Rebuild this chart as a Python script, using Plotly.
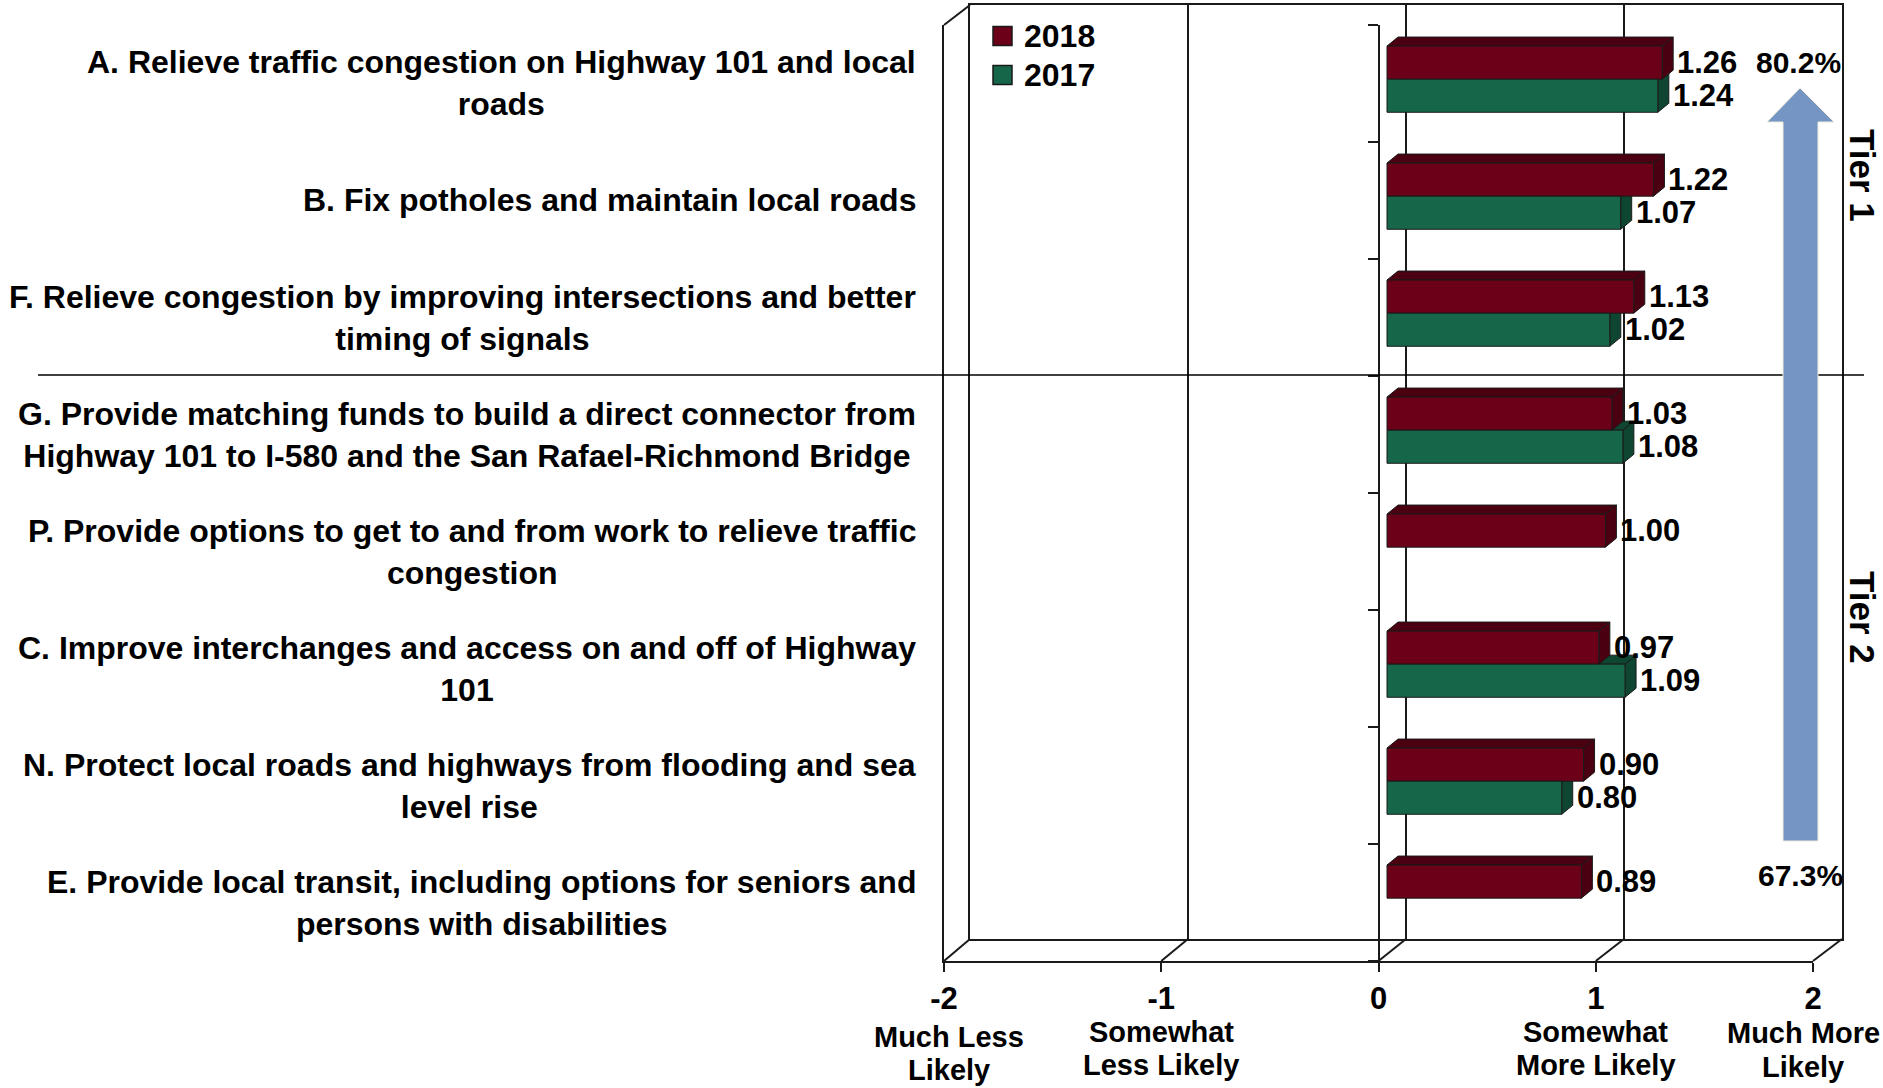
import plotly.graph_objects as go

W, H = 1883, 1088

# ---------------- data ----------------
categories = [
    "A. Relieve traffic congestion on Highway 101 and local<br>roads",
    "B. Fix potholes and maintain local roads",
    "F. Relieve congestion by improving intersections and better<br>timing of signals",
    "G. Provide matching funds to build a direct connector from<br>Highway 101 to I-580 and the San Rafael-Richmond Bridge",
    "P. Provide options to get to and from work to relieve traffic<br>congestion",
    "C. Improve interchanges and access on and off of Highway<br>101",
    "N. Protect local roads and highways from flooding and sea<br>level rise",
    "E. Provide local transit, including options for seniors and<br>persons with disabilities",
]
values_2018 = [1.26, 1.22, 1.13, 1.03, 1.00, 0.97, 0.90, 0.89]
values_2017 = [1.24, 1.07, 1.02, 1.08, None, 1.09, 0.80, None]
series_names = ["2018", "2017"]
x_tick_values = [-2, -1, 0, 1, 2]
x_tick_labels = ["-2", "-1", "0", "1", "2"]
x_tick_descriptions = [["Much Less", "Likely"], ["Somewhat", "Less Likely"], [],
                       ["Somewhat", "More Likely"], ["Much More", "Likely"]]
tier_labels = ["Tier 1", "Tier 2"]
arrow_labels = ["80.2%", "67.3%"]

# ---------------- styling ----------------
FRONT_COL = {"2018": "#6C0018", "2017": "#166649"}
DARK_COL = {"2018": "#4A0010", "2017": "#0E4632"}
EDGE = "#1a1a1a"
FONT = "Liberation Sans, Arial, sans-serif"


def px(x):
    return x / W


def py(y):
    return 1 - y / H


# geometry (pixels)
BAR_X0, UNIT_X = 1387, 218.4            # bar plane: value 0 and px per unit
TOP, BOTTOM = 25, 961                   # front plane vertical extent
CAT_PX = (BOTTOM - TOP) / len(categories)
DEPTH_X = 11 / UNIT_X                   # 3D bar depth in data units
DEPTH_Y = 9 / CAT_PX
BAR_W = 0.283
OFFSETS = {"2018": -0.32, "2017": -0.037}

FRONT_L, FRONT_R = 944, 1813            # front floor edge
BACK_L, BACK_R = 970, 1842              # back wall
BACK_TOP, BACK_BOTTOM = 5, 939

fig = go.Figure()
ypos = list(range(len(categories)))
series_vals = {"2018": values_2018, "2017": values_2017}

# empty trace so the back-wall subplot is rendered
fig.add_trace(go.Scatter(x=[None], y=[None], mode="markers", showlegend=False,
                         hoverinfo="skip", xaxis="x", yaxis="y"))

for name in series_names:
    fig.add_trace(go.Bar(
        name=name, x=series_vals[name], y=ypos, orientation="h",
        width=BAR_W, offset=OFFSETS[name], showlegend=False,
        marker=dict(color=FRONT_COL[name], line=dict(color=EDGE, width=1)),
        xaxis="x3", yaxis="y3", hoverinfo="x+name",
    ))

shapes = []
annotations = []

# 3D faces: draw 2017 first so 2018 faces overlap them
for name in ["2017", "2018"]:
    for c, v in enumerate(series_vals[name]):
        if v is None:
            continue
        y0 = c + OFFSETS[name]
        y1 = y0 + BAR_W
        top = f"M0,{y0} L{v},{y0} L{v + DEPTH_X},{y0 - DEPTH_Y} L{DEPTH_X},{y0 - DEPTH_Y} Z"
        side = f"M{v},{y0} L{v + DEPTH_X},{y0 - DEPTH_Y} L{v + DEPTH_X},{y1 - DEPTH_Y} L{v},{y1} Z"
        for p in (top, side):
            shapes.append(dict(type="path", path=p, xref="x3", yref="y3",
                               fillcolor=DARK_COL[name], line=dict(color=EDGE, width=1),
                               layer="below"))
        annotations.append(dict(
            x=v, y=y0 + BAR_W / 2, xref="x3", yref="y3", text=f"{v:.2f}",
            xanchor="left", yanchor="middle", xshift=13, showarrow=False,
            font=dict(size=31)))

# category labels
for c, lab in enumerate(categories):
    annotations.append(dict(
        x=px(918), y=c, xref="paper", yref="y3", text=lab, xanchor="right",
        yanchor="middle", align="center", showarrow=False, font=dict(size=32)))

# custom legend
for i, name in enumerate(series_names):
    yc = 36 + 39 * i
    shapes.append(dict(type="rect", xref="paper", yref="paper",
                       x0=px(993), x1=px(1012), y0=py(yc - 9.5), y1=py(yc + 9.5),
                       fillcolor=FRONT_COL[name], line=dict(color=EDGE, width=1.5)))
    annotations.append(dict(x=px(1022), y=py(yc), xref="paper", yref="paper",
                            text=name, xanchor="left", yanchor="middle",
                            showarrow=False, font=dict(size=32)))

# bottom descriptions (one annotation per line)
desc_lines_y = [(1037, 1070), (1032, 1065), (), (1032, 1065), (1033, 1067)]
desc_shift = [5, 0, 0, 0, -10]
for t, lines, ys, sh in zip(x_tick_values, x_tick_descriptions, desc_lines_y, desc_shift):
    for txt, yy in zip(lines, ys):
        annotations.append(dict(
            x=t, y=py(yy), xref="x2", yref="paper", text=txt, xanchor="center",
            yanchor="middle", align="center", xshift=sh, showarrow=False,
            font=dict(size=29)))

# floor diagonals and corners of the 3D frame
for t in x_tick_values:
    fx = FRONT_L + (t + 2) * (FRONT_R - FRONT_L) / 4
    bx = BACK_L + (t + 2) * (BACK_R - BACK_L) / 4
    shapes.append(dict(type="line", xref="paper", yref="paper",
                       x0=px(fx), y0=py(BOTTOM), x1=px(bx), y1=py(BACK_BOTTOM),
                       line=dict(color=EDGE, width=2)))
shapes.append(dict(type="line", xref="paper", yref="paper",
                   x0=px(FRONT_L), y0=py(TOP), x1=px(BACK_L), y1=py(BACK_TOP),
                   line=dict(color=EDGE, width=2)))

# tier separator
shapes.append(dict(type="line", xref="paper", yref="paper",
                   x0=px(38), y0=py(375), x1=px(1864), y1=py(375),
                   line=dict(color="black", width=1.5), layer="above"))

# arrow
arrow_pts = [(1800, 88), (1834, 122), (1818, 122), (1818, 841), (1783, 841),
             (1783, 122), (1767, 122)]
path = "M" + " L".join(f"{px(x)},{py(y)}" for x, y in arrow_pts) + " Z"
shapes.append(dict(type="path", path=path, xref="paper", yref="paper",
                   fillcolor="#7596C4", line=dict(color="#EFEBD8", width=1),
                   layer="above"))

annotations.append(dict(x=px(1798), y=py(63), xref="paper", yref="paper",
                        text=arrow_labels[0], showarrow=False, font=dict(size=30),
                        xanchor="center", yanchor="middle"))
annotations.append(dict(x=px(1800), y=py(875), xref="paper", yref="paper",
                        text=arrow_labels[1], showarrow=False, font=dict(size=30),
                        xanchor="center", yanchor="middle"))
for lab, yy in zip(tier_labels, [175, 617]):
    annotations.append(dict(x=px(1863), y=py(yy), xref="paper", yref="paper",
                            text=lab, textangle=90, showarrow=False,
                            font=dict(size=35), xanchor="center", yanchor="middle"))

line_kw = dict(linecolor=EDGE, linewidth=2, automargin=False)

fig.update_layout(
    width=W, height=H, autosize=False,
    margin=dict(l=0, r=0, t=0, b=0, pad=0, autoexpand=False),
    paper_bgcolor="white", plot_bgcolor="rgba(0,0,0,0)",
    font=dict(family=FONT, size=30, color="black", weight="bold"),
    barmode="overlay", showlegend=False,
    # back wall
    xaxis=dict(domain=[px(BACK_L), px(BACK_R)], anchor="y", range=[-2, 2],
               tickvals=x_tick_values, showgrid=True, gridcolor=EDGE, gridwidth=2,
               showticklabels=False, ticks="", showline=True, mirror=True,
               zeroline=False, fixedrange=True, **line_kw),
    yaxis=dict(domain=[py(BACK_BOTTOM), py(BACK_TOP)], anchor="x", range=[0, 1],
               showgrid=False, showline=True, mirror=True, showticklabels=False,
               ticks="", zeroline=False, fixedrange=True, **line_kw),
    # front floor edge with tick labels
    xaxis2=dict(domain=[px(FRONT_L), px(FRONT_R)], anchor="y2", range=[-2, 2],
                tickvals=x_tick_values, ticktext=x_tick_labels, ticks="outside",
                ticklen=9, tickwidth=2, tickcolor=EDGE, showline=True,
                showgrid=False, zeroline=False, tickfont=dict(size=31),
                fixedrange=True, **line_kw),
    yaxis2=dict(domain=[py(BOTTOM), py(TOP)], anchor="x2", range=[0, 1],
                showline=True, showticklabels=False, ticks="", showgrid=False,
                zeroline=False, fixedrange=True, **line_kw),
    # bars
    xaxis3=dict(domain=[px(BAR_X0 - 2 * UNIT_X), px(BAR_X0 + 2 * UNIT_X)],
                anchor="y3", range=[-2, 2], visible=False, fixedrange=True,
                automargin=False),
    yaxis3=dict(domain=[py(BOTTOM), py(TOP)], anchor="free", position=px(1379),
                range=[len(categories) - 0.5, -0.5],
                tickvals=[i - 0.5 for i in range(len(categories) + 1)],
                showticklabels=False, ticks="outside", ticklen=10, tickwidth=2,
                tickcolor=EDGE, showline=True, showgrid=False, zeroline=False,
                fixedrange=True, **line_kw),
    shapes=shapes, annotations=annotations,
)

fig.write_html("out.html", config={"displayModeBar": False},
               post_script="document.body.style.margin='0';"
                           "document.body.style.overflow='hidden';")
